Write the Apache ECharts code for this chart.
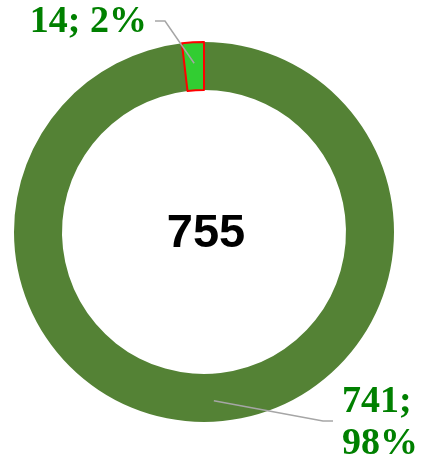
<!DOCTYPE html>
<html>
<head>
<meta charset="utf-8">
<script src="https://cdn.jsdelivr.net/npm/echarts@6/dist/echarts.min.js"></script>
<style>
html,body{margin:0;padding:0;background:#fff;}
#main{width:421px;height:459px;}
</style>
</head>
<body>
<div id="main"></div>
<script>
// Data
var categories = ['Group A', 'Group B'];
var values = [741, 14];
var colors = ['#548235', '#32CD32'];

var total = values.reduce(function(a, b){ return a + b; }, 0);
var CX = 204, CY = 232, R0 = 142, R1 = 190;

function midPoint(i) {
  var cum = 0;
  for (var k = 0; k < i; k++) cum += values[k];
  var frac = (cum + values[i] / 2) / total;
  var a = frac * 2 * Math.PI;
  var r = (R0 + R1) / 2 + 3;
  return [CX + r * Math.sin(a), CY - r * Math.cos(a)];
}

var lineStyle = { stroke: '#A6A6A6', lineWidth: 1.5, fill: null };

var chart = echarts.init(document.getElementById('main'));
chart.setOption({
  backgroundColor: '#ffffff',
  animation: false,
  title: {
    text: String(total),
    left: 201, top: 229,
    textAlign: 'center', textVerticalAlign: 'middle',
    textStyle: { fontFamily: 'Liberation Sans', fontWeight: 'bold', fontSize: 47, color: '#000' }
  },
  graphic: [
    { type: 'polyline', z: 10, shape: { points: [midPoint(1), [165, 21], [155, 21]] }, style: lineStyle },
    { type: 'polyline', z: 10, shape: { points: [midPoint(0), [323, 421], [333, 421]] }, style: lineStyle }
  ],
  series: [{
    type: 'pie',
    center: [CX, CY],
    radius: [R0, R1],
    startAngle: 90,
    clockwise: true,
    z: 2,
    data: categories.map(function(c, i){
      var item = { name: c, value: values[i], itemStyle: { color: colors[i] } };
      if (i === 1) { item.itemStyle.borderColor = '#FF0000'; item.itemStyle.borderWidth = 2; }
      return item;
    }),
    label: {
      show: true,
      position: 'outside',
      fontFamily: 'Liberation Serif',
      fontWeight: 'bold',
      fontSize: 38,
      lineHeight: 42,
      color: '#008000',
      formatter: function(p){
        var pct = Math.round(p.percent) + '%';
        return p.dataIndex === 0 ? p.value + ';\n' + pct : p.value + '; ' + pct;
      }
    },
    labelLine: { show: false },
    labelLayout: function(params){
      var i = params.dataIndex;
      if (i === 1) {
        return { x: 147, y: 22, align: 'right', verticalAlign: 'middle' };
      }
      return { x: 342, y: 423, align: 'left', verticalAlign: 'middle' };
    }
  }]
});
</script>
</body>
</html>
